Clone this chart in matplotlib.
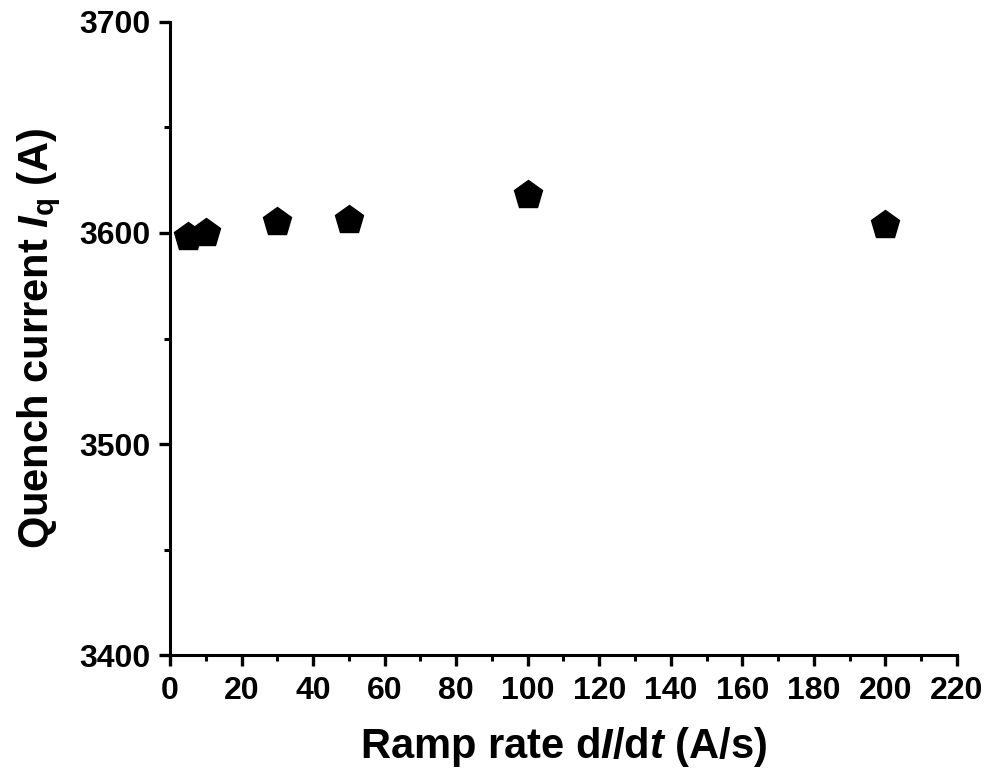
import numpy as np
import matplotlib
matplotlib.use('Agg')
import matplotlib.pyplot as plt
from matplotlib.ticker import MultipleLocator

plt.rcParams['font.family'] = 'Liberation Sans'
plt.rcParams['font.weight'] = 'bold'
plt.rcParams['axes.labelweight'] = 'bold'
plt.rcParams['mathtext.fontset'] = 'custom'
plt.rcParams['mathtext.rm'] = 'Liberation Sans:bold'
plt.rcParams['mathtext.it'] = 'Liberation Sans:bold:italic'
plt.rcParams['mathtext.bf'] = 'Liberation Sans:bold'

# ramp rate (A/s) and quench current (A)
ramp_rate = [5, 10, 30, 50, 100, 200]
quench_current = [3598, 3600, 3605, 3606, 3618, 3604]

fig = plt.figure(figsize=(10.07, 7.77), dpi=100)
ax = fig.add_axes([0.1688, 0.157, 0.7815, 0.8147])

ax.plot(ramp_rate, quench_current, linestyle='none', marker='p',
        markersize=21, color='black', clip_on=False)

ax.set_xlim(0, 220)
ax.set_ylim(3400, 3700)
ax.xaxis.set_major_locator(MultipleLocator(20))
ax.xaxis.set_minor_locator(MultipleLocator(10))
ax.yaxis.set_major_locator(MultipleLocator(100))
ax.yaxis.set_minor_locator(MultipleLocator(50))

for side in ['top', 'right']:
    ax.spines[side].set_visible(False)
for side in ['left', 'bottom']:
    ax.spines[side].set_linewidth(2.2)

ax.tick_params(which='major', direction='out', length=8, width=2.4,
               labelsize=23)
ax.tick_params(axis='x', which='major', pad=7)
ax.tick_params(axis='y', which='major', pad=6)
ax.tick_params(which='minor', direction='out', length=4.5, width=2.2)

ax.set_xlabel('Ramp rate d$I$/d$t$ (A/s)', fontsize=30, labelpad=14)
ax.set_ylabel('Quench current $I_\\mathregular{q}$ (A)', fontsize=30, labelpad=12)

plt.savefig('out.png', dpi=100)
